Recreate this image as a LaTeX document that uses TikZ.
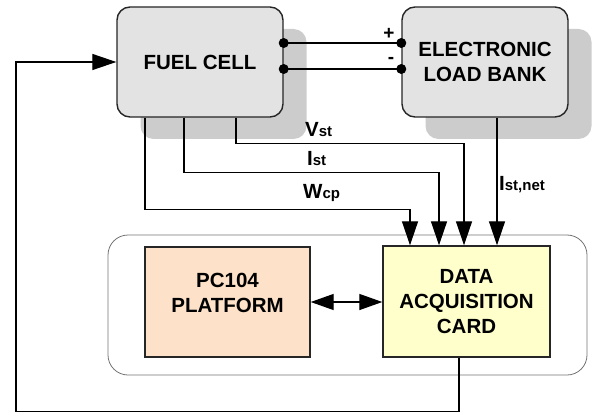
\documentclass[tikz,border=0pt]{standalone}
\usepackage{fontspec}
\setmainfont{Liberation Sans}
\usepackage{tikz}
\usepackage{xcolor}
\usetikzlibrary{positioning,arrows.meta,shadows}

\definecolor{cellgray}{HTML}{E3E3E3}
\definecolor{shadowgray}{HTML}{CCCCCC}
\definecolor{pcpeach}{HTML}{FDE2C9}
\definecolor{daqyellow}{HTML}{FFFFCC}

\begin{document}
\begin{tikzpicture}[
          x=1pt, y=-1pt,
          box/.style={draw=black!85, line width=1.4pt, minimum width=166pt, minimum height=110pt, align=center, inner sep=0pt, font=\fontsize{20.5}{25}\selectfont\bfseries},
          unit/.style={box, rounded corners=13pt, fill=cellgray, drop shadow={shadow xshift=23.5pt, shadow yshift=-22pt, fill=shadowgray, opacity=1}},
          arr/.style={-{Triangle[length=24pt,width=16pt]}, line width=1.3pt},
          darr/.style={arr, {Triangle[length=23pt,width=16pt]}-{Triangle[length=23pt,width=16pt]}},
          wire/.style={line width=1.3pt},
          dot/.style={circle, fill=black, inner sep=0pt, minimum size=10pt},
          sign/.style={inner sep=0pt, font=\fontsize{19}{19}\selectfont\bfseries},
          sig/.style={anchor=base west, inner sep=0pt, font=\bfseries}
      ]
        \useasboundingbox (0,0) rectangle (593,414);
        \node[unit] (fuelcell) at (200,62) {FUEL CELL};
        \node[unit] (loadbank) at (485,62) {ELECTRONIC\\LOAD BANK};
        \node[draw=black!55, line width=0.8pt, rounded corners=20pt, minimum width=479pt, minimum height=140pt] (daqsys) at (347.5,305) {};
        \node[box, fill=pcpeach, minimum width=165pt] (pcplat) at (227.5,302) {};
        \node[align=center, inner sep=0pt, font=\fontsize{20.5}{25}\selectfont\bfseries] (pctext) at ([yshift=9pt]pcplat.center) {PC104\\PLATFORM};
        \node[box, fill=daqyellow, minimum width=167pt, minimum height=111pt] (daq) at (466.5,301.5) {DATA\\ACQUISITION\\CARD};
        \coordinate (fcplus) at ([yshift=19pt]fuelcell.east);
        \coordinate (fcminus) at ([yshift=-7pt]fuelcell.east);
        \draw[wire] (fcplus) -- (fcplus -| loadbank.west);
        \draw[wire] (fcminus) -- (fcminus -| loadbank.west);
        \node[dot] (fcplusdot) at (fcplus) {};
        \node[dot] (fcminusdot) at (fcminus) {};
        \node[dot] (lbplusdot) at (fcplus -| loadbank.west) {};
        \node[dot] (lbminusdot) at (fcminus -| loadbank.west) {};
        \node[sign] (plus) at (389,34) {+};
        \node[sign] (minus) at (391,60) {-};
        \draw[arr] ([xshift=36pt]fuelcell.south) -- ++(0,26) -| ([xshift=-2.5pt]daq.north);
        \draw[arr] ([xshift=-16pt]fuelcell.south) -- ++(0,55) -| ([xshift=-27.5pt]daq.north);
        \draw[arr] ([xshift=-55pt]fuelcell.south) -- ++(0,92) -| ([xshift=-56.5pt]daq.north);
        \draw[arr] ([xshift=12pt]loadbank.south) -- ([xshift=12pt]loadbank.south |- daq.north);
        \node[sig] (vst) at (305,136) {\fontsize{20.5}{20}\selectfont V\fontsize{15}{15}\selectfont st};
        \node[sig] (ist) at (307,165) {\fontsize{20.5}{20}\selectfont I\fontsize{15}{15}\selectfont st};
        \node[sig] (wcp) at (303,198) {\fontsize{20.5}{20}\selectfont W\fontsize{15}{15}\selectfont cp};
        \node[sig] (istnet) at (499,190) {\fontsize{20.5}{20}\selectfont I\fontsize{15}{15}\selectfont st,net};
        \draw[darr] (pcplat.east) -- (pcplat.east -| daq.west);
        \coordinate (fbcorner) at (16,62);
        \draw[arr] ([xshift=-7.5pt]daq.south) -- ++(0,54) -| (fbcorner) -- (fuelcell.west);
      \end{tikzpicture}
\end{document}
